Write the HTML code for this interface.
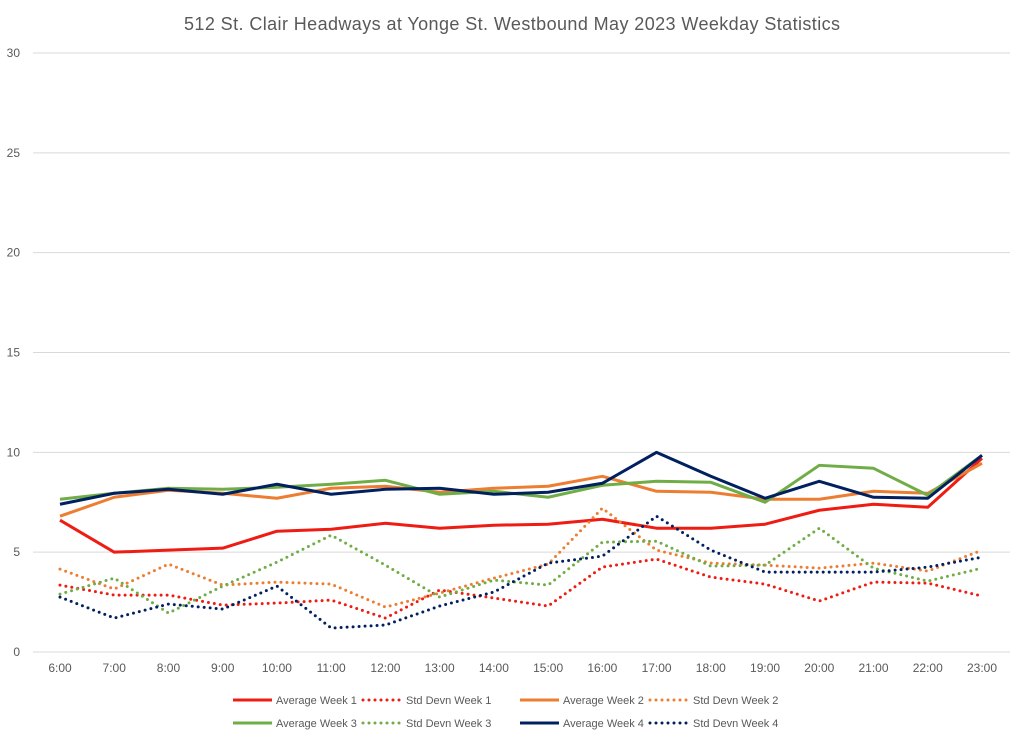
<!DOCTYPE html>
<html><head><meta charset="utf-8"><style>
body{margin:0;background:#fff;font-family:"Liberation Sans",sans-serif}
svg text{font-family:"Liberation Sans",sans-serif;fill:#595959}
</style></head><body>
<svg id="chart" width="1024" height="745">
<text x="512" y="30" text-anchor="middle" font-size="18" textLength="656">512 St. Clair Headways at Yonge St. Westbound May 2023 Weekday Statistics</text>
<g id="grid"></g><g id="series"></g><g id="legend"></g>
</svg>
<script>
const categories=["6:00","7:00","8:00","9:00","10:00","11:00","12:00","13:00","14:00","15:00","16:00","17:00","18:00","19:00","20:00","21:00","22:00","23:00"];
const yTicks=[0,5,10,15,20,25,30];
const avgW1=[6.6,5.0,5.1,5.2,6.05,6.15,6.45,6.2,6.35,6.4,6.65,6.2,6.2,6.4,7.1,7.4,7.25,9.7];
const sdW1=[3.35,2.85,2.85,2.35,2.45,2.6,1.7,3.1,2.7,2.3,4.25,4.65,3.75,3.4,2.55,3.5,3.45,2.8];
const avgW2=[6.8,7.75,8.1,7.95,7.7,8.2,8.3,8.0,8.2,8.3,8.8,8.05,8.0,7.65,7.65,8.05,7.95,9.45];
const sdW2=[4.15,3.15,4.4,3.35,3.5,3.4,2.25,2.95,3.7,4.4,7.2,5.1,4.45,4.35,4.2,4.45,4.05,5.1];
const avgW3=[7.65,7.95,8.2,8.15,8.25,8.4,8.6,7.9,8.05,7.75,8.35,8.55,8.5,7.5,9.35,9.2,7.85,9.85];
const sdW3=[2.9,3.7,1.95,3.3,4.5,5.85,4.35,2.75,3.6,3.35,5.5,5.55,4.3,4.35,6.2,4.2,3.55,4.2];
const avgW4=[7.4,7.95,8.15,7.9,8.4,7.9,8.15,8.2,7.9,8.0,8.45,10.0,8.8,7.7,8.55,7.75,7.7,9.85];
const sdW4=[2.75,1.7,2.4,2.15,3.3,1.2,1.35,2.3,3.0,4.45,4.8,6.8,5.1,4.0,4.0,4.0,4.25,4.75];
const seriesNames=["Average Week 1","Std Devn Week 1","Average Week 2","Std Devn Week 2","Average Week 3","Std Devn Week 3","Average Week 4","Std Devn Week 4"];
const NS="http://www.w3.org/2000/svg";
const x0=60,x1=982,yBase=652,yTop=53;
const xs=i=>x0+i*(x1-x0)/(categories.length-1);
const ys=v=>yBase-v*(yBase-yTop)/30;
function mk(tag,attrs,parent){const e=document.createElementNS(NS,tag);for(const k in attrs)e.setAttribute(k,attrs[k]);parent.appendChild(e);return e;}
const grid=document.getElementById('grid');
yTicks.forEach(t=>{
  const l=mk('line',{x1:33,x2:1010,y1:ys(t),y2:ys(t),stroke:'#d9d9d9','stroke-width':1},grid);
  
  
  const tx=mk('text',{x:20,y:ys(t)+4,'text-anchor':'end','font-size':12},grid);
  tx.textContent=t;
  
  
});
categories.forEach((c,i)=>{
  const tx=mk('text',{x:xs(i),y:672,'text-anchor':'middle','font-size':12},grid);
  tx.textContent=c;
  
  
});
const data=[avgW1,sdW1,avgW2,sdW2,avgW3,sdW3,avgW4,sdW4];
const colors=['#ee1c12','#ee1c12','#ed7d31','#ed7d31','#70ad47','#70ad47','#002060','#002060'];
const sg=document.getElementById('series');
data.forEach((d,k)=>{
  const dotted=k%2===1;
  const p=mk('polyline',{points:d.map((v,i)=>xs(i)+','+ys(v)).join(' '),fill:'none',stroke:colors[k],'stroke-width':3,'stroke-linejoin':'round','stroke-linecap':dotted?'round':'butt','stroke-dasharray':dotted?'0 6':'none'},sg);
  
  
});
const lg=document.getElementById('legend');
const lx=[233,363,520,650];
seriesNames.forEach((n,k)=>{
  const row=Math.floor(k/4),col=k%4,y=700+row*23,dotted=k%2===1;
  const g=mk('g',{},lg);
  
  
  mk('line',{x1:lx[col],x2:lx[col]+39,y1:y,y2:y,stroke:colors[k],'stroke-width':3,'stroke-linecap':dotted?'round':'butt','stroke-dasharray':dotted?'0 6':'none'},g);
  const t=mk('text',{x:lx[col]+43,y:y+4,'font-size':11},g);
  t.textContent=n;
});
</script>
</body></html>
